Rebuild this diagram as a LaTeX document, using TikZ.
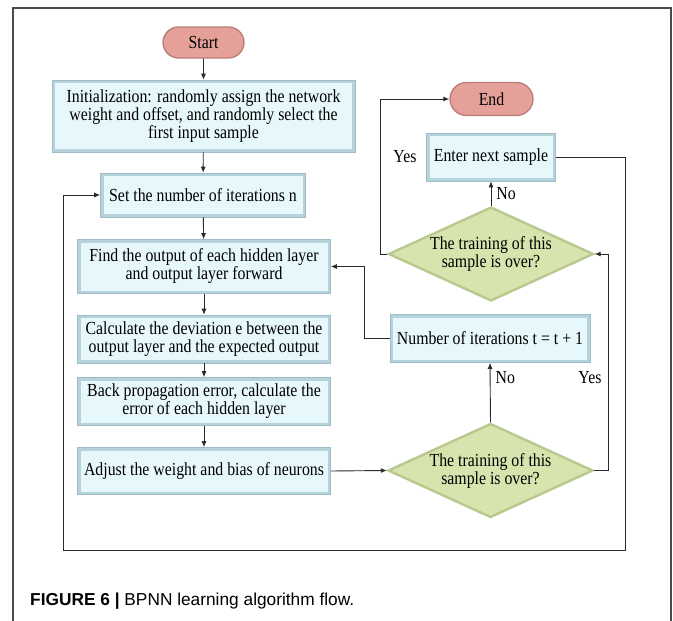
\documentclass[tikz,border=0pt]{standalone}
\usepackage{fontspec}
\setmainfont{Liberation Serif}[FakeStretch=0.86]
\newfontfamily\capfont{Liberation Sans}
\usetikzlibrary{shapes.misc,shapes.geometric,arrows.meta}

\definecolor{pillfill}{HTML}{E6A09A}
\definecolor{pilledge}{HTML}{BC7C76}
\definecolor{boxfill}{HTML}{E7F8FD}
\definecolor{boxbevel}{HTML}{B6D3DB}
\definecolor{boxedge}{HTML}{9DBCC5}
\definecolor{dfill}{HTML}{D7E4AE}
\definecolor{dedge}{HTML}{B8C88E}
\definecolor{wire}{HTML}{2A2A2A}
\definecolor{framecol}{HTML}{4A4A4A}

\begin{document}
\begin{tikzpicture}[x=1pt,y=-1pt,
  every node/.style={font=\fontsize{18.4}{18}\selectfont, align=center, inner sep=0pt},
  pill/.style={rounded rectangle, fill=pillfill, draw=pilledge, line width=1.3pt},
  procbox/.style={rectangle, fill=boxbevel, draw=boxedge, line width=0.6pt,
    path picture={\fill[boxfill]
      ([shift={(3pt,-3pt)}]path picture bounding box.north west) rectangle
      ([shift={(-3pt,3pt)}]path picture bounding box.south east);}},
  decision/.style={diamond, aspect=2.18, fill=dfill, draw=dedge, line width=2.4pt,
    minimum width=205pt, minimum height=94pt},
  arr/.style={draw=wire, line width=0.9pt, -{Latex[length=6pt,width=5pt]}},
  wireline/.style={draw=wire, line width=0.9pt}]

\useasboundingbox (0,0) rectangle (673,621);

% outer frame, open at the bottom
\draw[framecol, line width=1.3pt] (13,621) -- (13,8) -- (671,8) -- (671,621);

% main column
\node[pill, minimum width=81pt, minimum height=31pt] (start) at (203.5,42.5) {Start};
\node[procbox, minimum width=303pt, minimum height=72pt] (init) at (203.5,116)
  {Initialization: randomly assign the network\\weight and offset, and randomly select the\\first input sample};
\node[procbox, minimum width=205pt, minimum height=44pt] (set) at (203,195) {Set the number of iterations n};
\node[procbox, minimum width=253pt, minimum height=54pt] (find) at (204,266.5)
  {Find the output of each hidden layer\\and output layer forward};
\node[procbox, minimum width=253pt, minimum height=48pt] (calc) at (204,339)
  {Calculate the deviation e between the\\output layer and the expected output};
\node[procbox, minimum width=253pt, minimum height=48pt] (back) at (204,401.5)
  {Back propagation error, calculate the\\error of each hidden layer};
\node[procbox, minimum width=253pt, minimum height=47pt] (adjust) at (204,471)
  {Adjust the weight and bias of neurons};

% right column
\node[decision] (d2) at (490.5,470.5) {The training of this\\sample is over?};
\node[procbox, minimum width=200pt, minimum height=48pt] (num) at (490,338.5) {Number of iterations t = t + 1};
\node[decision] (d1) at (491,254) {The training of this\\sample is over?};
\node[procbox, minimum width=129pt, minimum height=48pt] (enter) at (491,157) {Enter next sample};
\node[pill, minimum width=83pt, minimum height=33pt] (end) at (491.5,99) {End};

% loop corners
\coordinate (loopR) at (625,550);
\coordinate (loopL) at (63,550);

% main column connectors
\draw[arr] (start) -- (init);
\draw[arr] (init) -- (set);
\draw[arr] (set) -- (find);
\draw[arr] (find) -- (calc);
\draw[arr] (calc) -- (back);
\draw[arr] (back) -- (adjust);
\draw[arr] (adjust.east) -- (d2.west);

% inner loop
\draw[arr] (d2.north) -- node[pos=0.75, right=5pt] {No} (num.south);
\draw[arr] (num.west) -- ++(-25,0) |- (find.east);
\draw[arr] (d2.east) -- ++(14,0) |- (d1.east);
\node (yes2) at (590,378) {Yes};

% sample loop
\draw[arr] (d1.north) -- node[pos=0.5, right=5pt] {No} (enter.south);
\draw[arr] (d1.west) -- ++(-7,0) |- (end.west);
\node (yes1) at (405,157) {Yes};
\draw[wireline] (enter.east) -| (loopR) -- (loopL);
\draw[arr] (loopL) |- (set.west);

% caption
\node[anchor=base west, font=\capfont\fontsize{17.3}{17}\selectfont] (caption) at (30,605)
  {\textbf{FIGURE 6 |} BPNN learning algorithm flow.};
\end{tikzpicture}
\end{document}
